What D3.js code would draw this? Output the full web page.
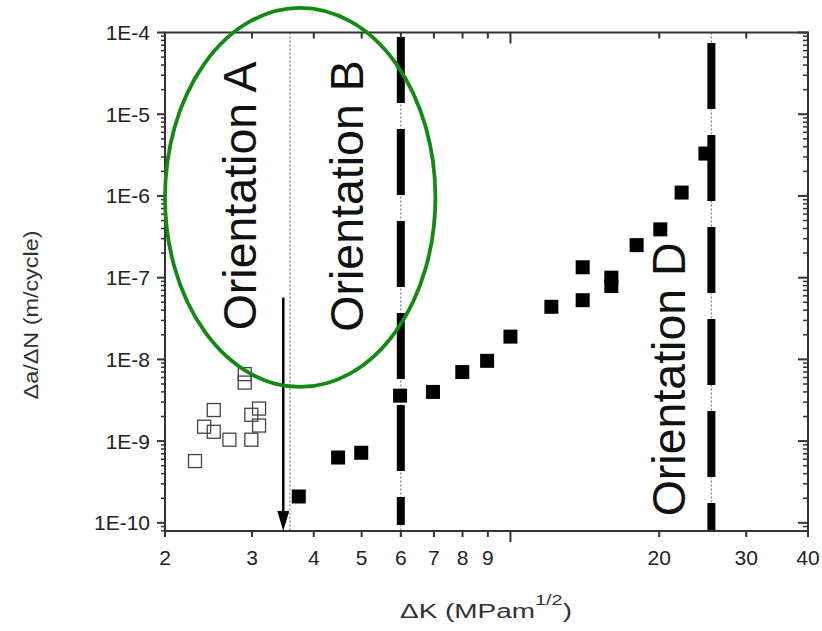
<!DOCTYPE html>
<html>
<head>
<meta charset="utf-8">
<script src="https://cdn.jsdelivr.net/npm/d3@7"></script>
<style>
  body { margin:0; background:#fff; }
  svg { display:block; font-family:"Liberation Sans", Arial, sans-serif; }
</style>
</head>
<body>
<svg width="822" height="631"></svg>
<script>
// data
const openDK   = [2.90, 2.90, 2.51, 2.40, 2.51, 2.70, 2.30, 2.99, 3.10, 3.10, 2.99];
const openRate = [6.6e-9, 5.2e-9, 2.4e-9, 1.5e-9, 1.3e-9, 1.04e-9, 5.7e-10, 2.1e-9, 2.5e-9, 1.55e-9, 1.04e-9];

const filledDK   = [3.73, 4.48, 4.99, 5.98, 6.97, 7.99, 8.97, 10.0, 12.1, 14.0, 14.0, 16.0, 16.0, 18.0, 20.1, 22.2, 24.8];
const filledRate = [2.1e-10, 6.3e-10, 7.2e-10, 3.6e-9, 4.0e-9, 7.0e-9, 9.6e-9, 1.9e-8, 4.4e-8, 5.3e-8, 1.34e-7, 7.9e-8, 1.0e-7, 2.5e-7, 3.9e-7, 1.1e-6, 3.3e-6];

const xTicks = [2, 3, 4, 5, 6, 7, 8, 9, 10, 20, 30, 40];
const xTickLabels = ['2', '3', '4', '5', '6', '7', '8', '9', '', '20', '30', '40'];
const yTicks = [1e-10, 1e-9, 1e-8, 1e-7, 1e-6, 1e-5, 1e-4];
const yTickLabels = ['1E-10', '1E-9', '1E-8', '1E-7', '1E-6', '1E-5', '1E-4'];

const orientLines = [6, 25.5];        // thick dashed boundaries
const thresholdDK = 3.58;              // thin dotted line
const arrowDK = 3.47, arrowTop = 5.7e-8;
const ellipseDK = [2.0, 7.05], ellipseRate = [4.6e-9, 2.0e-4];
const labels = [
  {text:'Orientation A', dk:3.06, rate:1e-6},
  {text:'Orientation B', dk:5.03, rate:1e-6},
  {text:'Orientation D', dk:25.6, rate:5.7e-9, dx:-27}
];

const svg = d3.select('svg');
const pl = 165, pr = 808, pt = 32.5, pb = 531;

const x = d3.scaleLog().domain([2, 40]).range([pl, pr]);
const y = d3.scaleLog().domain([Math.pow(10, -10.1), 1e-4]).range([pb, pt]);

const axisCol = '#333';

// minor tick values
let yMinor = [];
for (let e = -11; e <= -5; e++) for (let m = 2; m <= 9; m++) {
  const v = m * Math.pow(10, e);
  if (v >= y.domain()[0] && v <= 1e-4) yMinor.push(v);
}

// thin dotted verticals
svg.selectAll('.dotline').data([thresholdDK].concat(orientLines))
  .enter().append('line')
  .attr('x1', d => x(d)).attr('x2', d => x(d))
  .attr('y1', pt).attr('y2', pb)
  .attr('stroke', '#666').attr('stroke-width', 1)
  .attr('stroke-dasharray', '2,2');

// thick dashed verticals
svg.selectAll('.dash').data(orientLines)
  .enter().append('line')
  .attr('x1', d => x(d)).attr('x2', d => x(d))
  .attr('y1', (d, i) => pt + 4.5 + i * 6)
  .attr('y2', (d, i) => pb - 6 + i * 6)
  .attr('stroke', '#000').attr('stroke-width', 8)
  .attr('stroke-dasharray', '66,26');

// open squares
const s = 13;
svg.selectAll('.open').data(openDK)
  .enter().append('rect')
  .attr('x', (d, i) => x(d) - s / 2)
  .attr('y', (d, i) => y(openRate[i]) - s / 2)
  .attr('width', s).attr('height', s)
  .attr('fill', 'none').attr('stroke', '#444').attr('stroke-width', 1.3);

// filled squares
svg.selectAll('.filled').data(filledDK)
  .enter().append('rect')
  .attr('x', (d, i) => x(d) - 7)
  .attr('y', (d, i) => y(filledRate[i]) - 7)
  .attr('width', 14).attr('height', 14)
  .attr('fill', '#000');

// frame
svg.append('rect')
  .attr('x', pl).attr('y', pt)
  .attr('width', pr - pl).attr('height', pb - pt)
  .attr('fill', 'none').attr('stroke', axisCol).attr('stroke-width', 2);

// bottom ticks (out) and top ticks (in)
svg.selectAll('.xt').data(xTicks).enter().append('line')
  .attr('x1', d => x(d)).attr('x2', d => x(d))
  .attr('y1', pb).attr('y2', d => pb + (d === 10 ? 11 : 6))
  .attr('stroke', axisCol).attr('stroke-width', 2);
svg.selectAll('.xtt').data(xTicks).enter().append('line')
  .attr('x1', d => x(d)).attr('x2', d => x(d))
  .attr('y1', pt).attr('y2', d => pt + (d === 10 ? 11 : 6))
  .attr('stroke', axisCol).attr('stroke-width', 2);
svg.selectAll('.xl').data(xTicks).enter().append('text')
  .attr('x', d => x(d)).attr('y', 565)
  .attr('text-anchor', 'middle').attr('font-size', 21).attr('fill', '#222')
  .text((d, i) => xTickLabels[i]);

// left ticks (out), right ticks (in)
svg.selectAll('.yt').data(yTicks).enter().append('line')
  .attr('x1', pl - 8).attr('x2', pl)
  .attr('y1', d => y(d)).attr('y2', d => y(d))
  .attr('stroke', axisCol).attr('stroke-width', 2);
svg.selectAll('.ytm').data(yMinor).enter().append('line')
  .attr('x1', pl - 4).attr('x2', pl)
  .attr('y1', d => y(d)).attr('y2', d => y(d))
  .attr('stroke', axisCol).attr('stroke-width', 1.5);
svg.selectAll('.ytr').data(yTicks).enter().append('line')
  .attr('x1', pr - 10).attr('x2', pr)
  .attr('y1', d => y(d)).attr('y2', d => y(d))
  .attr('stroke', axisCol).attr('stroke-width', 2);
svg.selectAll('.ytrm').data(yMinor).enter().append('line')
  .attr('x1', pr - 5).attr('x2', pr)
  .attr('y1', d => y(d)).attr('y2', d => y(d))
  .attr('stroke', axisCol).attr('stroke-width', 1.5);
svg.selectAll('.yl').data(yTicks).enter().append('text')
  .attr('x', 150).attr('y', d => y(d) + 7.5)
  .attr('text-anchor', 'end').attr('font-size', 21).attr('fill', '#222')
  .text((d, i) => yTickLabels[i]);

// arrow
svg.append('line')
  .attr('x1', x(arrowDK)).attr('x2', x(arrowDK))
  .attr('y1', y(arrowTop)).attr('y2', pb - 18)
  .attr('stroke', '#000').attr('stroke-width', 2.5);
svg.append('path')
  .attr('d', `M${x(arrowDK) - 6},${pb - 20} L${x(arrowDK) + 6},${pb - 20} L${x(arrowDK)},${pb} Z`)
  .attr('fill', '#000');

// green ellipse
const ex0 = x(ellipseDK[0]), ex1 = x(ellipseDK[1]);
const ey0 = y(ellipseRate[1]), ey1 = y(ellipseRate[0]);
svg.append('ellipse')
  .attr('cx', (ex0 + ex1) / 2).attr('cy', (ey0 + ey1) / 2)
  .attr('rx', (ex1 - ex0) / 2).attr('ry', (ey1 - ey0) / 2)
  .attr('fill', 'none').attr('stroke', '#138a13').attr('stroke-width', 3.8);

// orientation labels
svg.selectAll('.orient').data(labels).enter().append('text')
  .attr('transform', d => `translate(${x(d.dk) + (d.dx || 0)},${y(d.rate)}) rotate(-90)`)
  .attr('text-anchor', 'middle').attr('font-size', 46.5).attr('fill', '#111')
  .text(d => d.text);

// axis titles (the source lettering is wider than Liberation Sans)
const xt = svg.append('text')
  .attr('transform', 'translate(486,618) scale(1.33,1)')
  .attr('text-anchor', 'middle').attr('font-size', 21).attr('fill', '#333');
xt.append('tspan').text('\u0394K (MPam');
xt.append('tspan').attr('font-size', 15).attr('dy', -13).text('1/2');
xt.append('tspan').attr('dy', 13).text(')');

svg.append('text')
  .attr('transform', 'translate(38,315) rotate(-90) scale(1.2,1)')
  .attr('text-anchor', 'middle').attr('font-size', 19.5).attr('fill', '#333')
  .text('\u0394a/\u0394N (m/cycle)');
</script>
</body>
</html>
